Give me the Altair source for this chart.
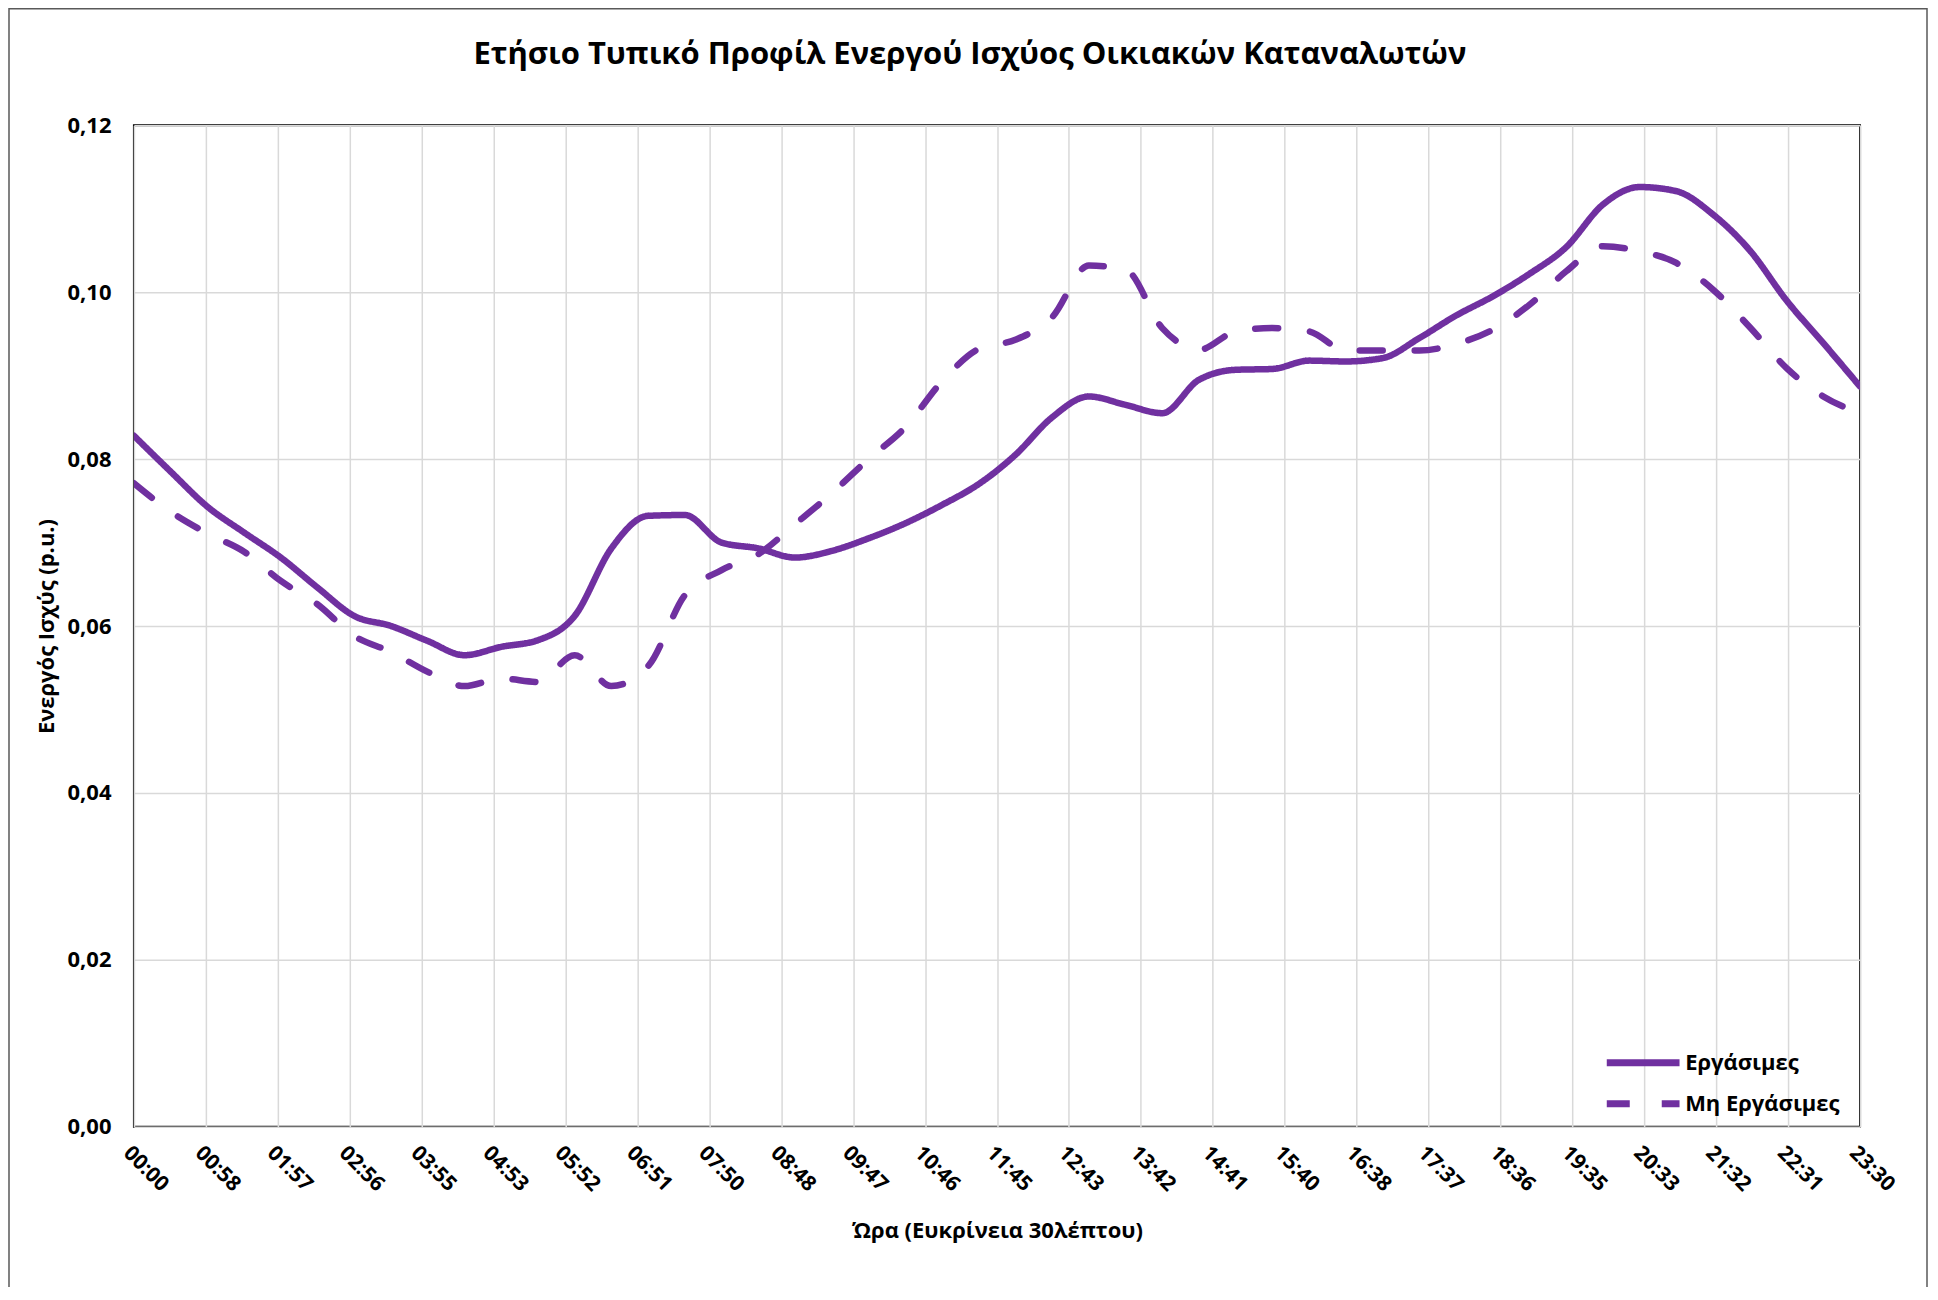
import altair as alt
import pandas as pd

TITLE = "Ετήσιο Τυπικό Προφίλ Ενεργού Ισχύος Οικιακών Καταναλωτών"
Y_TITLE = "Ενεργός Ισχύς (p.u.)"
X_TITLE = "Ώρα (Ευκρίνεια 30λέπτου)"
SERIES = ["Εργάσιμες", "Μη Εργάσιμες"]

# half-hour time stamps (minutes after midnight)
minutes = [30 * i for i in range(48)]

working = [0.0828, 0.0785, 0.0743, 0.0712, 0.0682, 0.0646, 0.0612, 0.0600,
           0.0582, 0.0565, 0.0575, 0.0583, 0.0612, 0.0693, 0.0732, 0.0733,
           0.0700, 0.0693, 0.0682, 0.0690, 0.0705, 0.0723, 0.0745, 0.0770,
           0.0805, 0.0850, 0.0875, 0.0865, 0.0855, 0.0895, 0.0907, 0.0908,
           0.0918, 0.0917, 0.0921, 0.0945, 0.0972, 0.0995, 0.1022, 0.1054,
           0.1105, 0.1126, 0.1121, 0.1093, 0.1050, 0.0990, 0.0939, 0.0887]

non_working = [0.0771, 0.0737, 0.0711, 0.0689, 0.0654, 0.0626, 0.0588, 0.0569,
               0.0545, 0.0528, 0.0537, 0.0533, 0.0565, 0.0528, 0.0552, 0.0637,
               0.0667, 0.0686, 0.0722, 0.0759, 0.0800, 0.0838, 0.0893, 0.0932,
               0.0943, 0.0970, 0.1032, 0.1027, 0.0957, 0.0931, 0.0953, 0.0957,
               0.0953, 0.0930, 0.0930, 0.0930, 0.0938, 0.0955, 0.0985, 0.1025,
               0.1055, 0.1049, 0.1035, 0.1003, 0.0958, 0.0909, 0.0875, 0.0855]

tick_minutes = [58.75 * k for k in range(25)]
tick_labels = ["00:00", "00:58", "01:57", "02:56", "03:55", "04:53", "05:52",
               "06:51", "07:50", "08:48", "09:47", "10:46", "11:45", "12:43",
               "13:42", "14:41", "15:40", "16:38", "17:37", "18:36", "19:35",
               "20:33", "21:32", "22:31", "23:30"]
y_ticks = [0.0, 0.02, 0.04, 0.06, 0.08, 0.10, 0.12]

PURPLE = "#7030A0"
FONT = "Open Sans"
W, H = 1727, 1002


def js_key(v):
    return str(int(v)) if float(v).is_integer() else repr(float(v))


label_map = "{" + ",".join(f"'{js_key(v)}':'{l}'" for v, l in zip(tick_minutes, tick_labels)) + "}"
x_label_expr = f"{label_map}[''+datum.value]"

rows = []
for name, vals in ((SERIES[0], working), (SERIES[1], non_working)):
    for m, v in zip(minutes, vals):
        rows.append({"t": m, "v": v, "s": name})
df = pd.DataFrame(rows)

lines = alt.Chart(df).mark_line(
    color=PURPLE, strokeWidth=6.5, strokeCap="round", interpolate="monotone", clip=True
).encode(
    x=alt.X("t:Q", title=X_TITLE,
            scale=alt.Scale(domain=[0, 1410], nice=False, zero=False),
            axis=alt.Axis(values=tick_minutes, labelExpr=x_label_expr, labelAngle=45,
                          labelAlign="left", labelBaseline="top", labelFontSize=21,
                          labelPadding=15, titlePadding=26, labelOverlap=False)),
    y=alt.Y("v:Q", title=Y_TITLE,
            scale=alt.Scale(domain=[0, 0.12], nice=False),
            axis=alt.Axis(values=y_ticks,
                          labelExpr="replace(format(datum.value, '.2f'), '.', ',')",
                          labelFontSize=22, labelPadding=23, titlePadding=8)),
    strokeDash=alt.StrokeDash(
        "s:N",
        scale=alt.Scale(domain=SERIES, range=[[1, 0], [23, 32]]),
        legend=alt.Legend(title=None, orient="none", legendX=1470, legendY=923,
                          symbolType="stroke", symbolSize=5300, symbolStrokeWidth=7,
                          symbolStrokeColor=PURPLE, labelFontSize=22, labelFont=FONT,
                          labelFontWeight="bold", labelColor="#000000",
                          clipHeight=30, labelOffset=2, rowPadding=11, padding=0)),
)

frame_df = pd.DataFrame({"k": [0]})
frame = alt.Chart(frame_df).mark_rect(
    fill=None, stroke="#595959", strokeWidth=1.5, clip=False
).encode(
    x=alt.value(-125), x2=alt.value(1794), y=alt.value(-116.5), y2=alt.value(1200)
)

chart = alt.layer(frame, lines).properties(
    width=W, height=H,
    title=alt.TitleParams(TITLE, fontSize=31, font=FONT, fontWeight="bold",
                          color="#000000", offset=-63, anchor="middle", dx=-27),
    padding={"left": 126, "top": 117, "right": 70, "bottom": 160},
    autosize=alt.AutoSizeParams(type="none"),
).configure_view(
    stroke="#000000", strokeWidth=2
).configure_axis(
    grid=True, gridColor="#d9d9d9", gridWidth=1.5, ticks=False, domain=False,
    labelFont=FONT, labelFontSize=19, labelFontWeight="bold", labelColor="#000000",
    titleFont=FONT, titleFontSize=22, titleFontWeight="bold", titleColor="#000000"
)

chart.save("out.html", embed_options={"renderer": "svg", "actions": False})
